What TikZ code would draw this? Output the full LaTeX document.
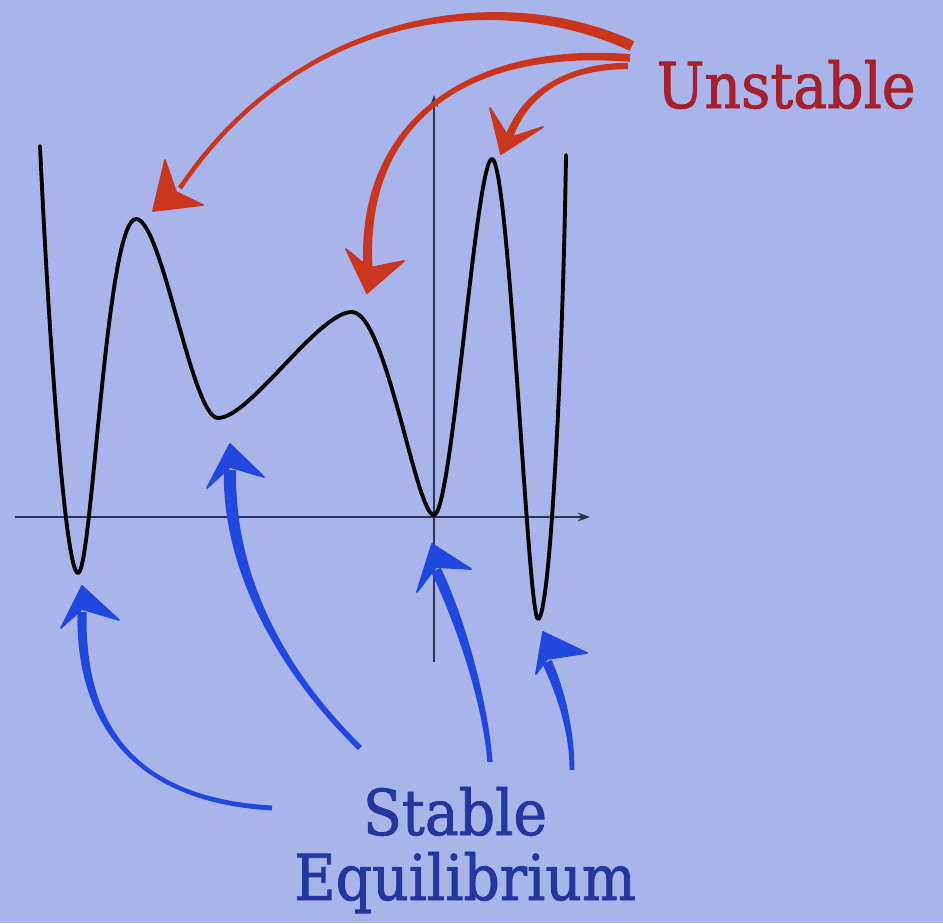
\documentclass[tikz,border=0pt]{standalone}
\usepackage{fontspec}
\usetikzlibrary{calc,arrows.meta}
\newfontfamily\slab[FakeStretch=0.9,FakeBold=1.3]{DejaVu Serif}
\definecolor{bg}{HTML}{A9B5EA}
\definecolor{redtxt}{HTML}{A51F2C}
\definecolor{bluetxt}{HTML}{25379C}
\definecolor{redar}{HTML}{C9361D}
\definecolor{bluear}{HTML}{2148DE}
\definecolor{axisc}{HTML}{2E3450}
% #1 colour, #2 tail, #3 control 1, #4 control 2, #5 end, #6 half width at tail, #7 half width at end
\newcommand\brushstroke[7]{%
  \fill[#1] ($(#2)!#6!90:(#3)$) .. controls ($(#3)!#6!-90:(#2)$) and ($(#4)!#7!90:(#5)$) .. ($(#5)!#7!-90:(#4)$)
   -- ($(#5)!#7!90:(#4)$) .. controls ($(#4)!#7!-90:(#5)$) and ($(#3)!#6!90:(#2)$) .. ($(#2)!#6!-90:(#3)$) -- cycle;}
\begin{document}
\begin{tikzpicture}[x=0.02cm,y=-0.02cm,
  axisline/.style={line width=0.8pt,draw=axisc,-{Stealth[length=7pt,width=5pt]}},
  curveline/.style={line width=2.2pt,black,line join=round,line cap=round},
  redhead/.style={fill=redar,draw=redar,line width=1pt,line join=round},
  bluehead/.style={fill=bluear,draw=bluear,line width=1pt,line join=round},
  lab/.style={font=\slab\fontsize{36}{40}\selectfont,anchor=base,inner sep=0pt}]
\fill[bg] (0,0) rectangle (943,923);
\useasboundingbox (0,0) rectangle (943,923);

% axes
\coordinate (xl) at (15,517); \coordinate (xr) at (590,517);
\coordinate (yb) at (434,662); \coordinate (yt) at (434,95);
\draw[axisline] (xl) -- (xr);
\draw[axisline] (yb) -- (yt);

% extrema of the curve
\coordinate (s0) at (40,146);
\coordinate (m1) at (78,573);
\coordinate (p1) at (136,219);
\coordinate (m2) at (218,418);
\coordinate (p2) at (352,312);
\coordinate (m3) at (434,515);
\coordinate (p3) at (492,159);
\coordinate (m4) at (538,619);
\coordinate (s1) at (566,155);

\draw[curveline] (s0) .. controls (50,360) and (66,573) .. (m1)
  .. controls (92,573) and (106,219) .. (p1)
  .. controls (162,219) and (192,418) .. (m2)
  .. controls (250,418) and (318,312) .. (p2)
  .. controls (386,312) and (416,515) .. (m3)
  .. controls (452,515) and (476,159) .. (p3)
  .. controls (509,159) and (528,619) .. (m4)
  .. controls (550,619) and (563,360) .. (s1);

% labels
\node[lab,text=redtxt] (unst) at (786,108) {Unstable};
\node[lab,text=bluetxt] (stab) at (455,835) {Stable};
\node[lab,text=bluetxt] (equi) at (465,900) {Equilibrium};

% red arrows (Unstable -> maxima)
\brushstroke{redar}{632,46}{500,-15}{300,10}{180,188}{3pt}{1.3pt}
\fill[redhead] (153,211) -- (165,160) -- (176,192) -- (203,205) -- cycle;
\brushstroke{redar}{630,58}{470,45}{360,120}{368,268}{2.2pt}{2.6pt}
\fill[redhead] (367,293) -- (346,249) -- (369,268) -- (404,261) -- cycle;
\brushstroke{redar}{628,66}{570,66}{525,90}{508,140}{1.8pt}{2.2pt}
\fill[redhead] (501,154) -- (490,108) -- (509,138) -- (543,127) -- cycle;

% blue arrows (Stable Equilibrium -> minima)
\brushstroke{bluear}{272,808}{130,800}{80,720}{82,612}{1.4pt}{2.6pt}
\fill[bluehead] (82,586) -- (61,628) -- (82,609) -- (119,620) -- cycle;
\brushstroke{bluear}{360,748}{270,660}{228,560}{230,470}{1.6pt}{3.5pt}
\fill[bluehead] (230,444) -- (207,488) -- (230,467) -- (264,477) -- cycle;
\brushstroke{bluear}{490,762}{485,700}{460,620}{436,570}{1.5pt}{3pt}
\fill[bluehead] (432,544) -- (417,592) -- (436,567) -- (471,569) -- cycle;
\brushstroke{bluear}{572,770}{572,730}{560,690}{547,662}{1.4pt}{2.8pt}
\fill[bluehead] (543,632) -- (536,674) -- (547,659) -- (587,653) -- cycle;
\end{tikzpicture}
\end{document}
